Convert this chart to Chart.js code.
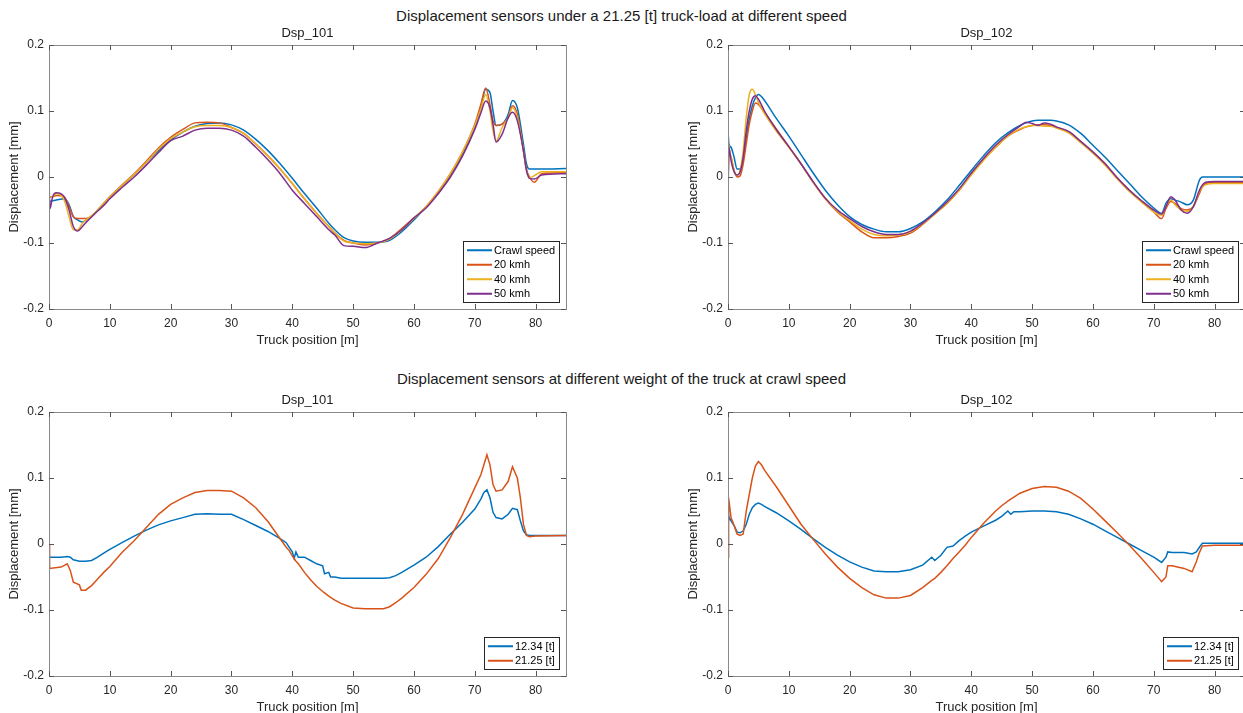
<!DOCTYPE html>
<html>
<head>
<meta charset="utf-8">
<title>Displacement sensors</title>
<script src="https://cdn.jsdelivr.net/npm/chart.js@4.4.1/dist/chart.umd.min.js"></script>
<style>
  html, body { margin: 0; padding: 0; background: #fff; overflow: hidden; }
  body { position: relative; width: 1243px; height: 713px;
         font-family: Arial, "Liberation Sans", Helvetica, sans-serif; }
  .sup { position: absolute; left: 0; width: 1243px; text-align: center;
         font-size: 15px; color: #1a1a1a; line-height: 18px; }
  canvas { position: absolute; }
</style>
</head>
<body>
<div class="sup" style="top:7px">Displacement sensors under a 21.25 [t] truck-load at different speed</div>
<div class="sup" style="top:370px">Displacement sensors at different weight of the truck at crawl speed</div>
<canvas id="c-tl" width="576" height="327" style="left:0;top:22px"></canvas>
<canvas id="c-tr" width="576" height="327" style="left:679px;top:22px"></canvas>
<canvas id="c-bl" width="576" height="327" style="left:0;top:389px"></canvas>
<canvas id="c-br" width="576" height="327" style="left:679px;top:389px"></canvas>
<script>
// ---- axis ticks ----
const X_TICKS       = [0, 10, 20, 30, 40, 50, 60, 70, 80];
const Y_TICKS       = [-0.2, -0.1, 0, 0.1, 0.2];
const Y_TICK_LABELS = ['-0.2', '-0.1', '0', '0.1', '0.2'];

// ---- top row: Dsp_101 at different speeds (21.25 t) ----
const SPEED_LABELS = ['Crawl speed', '20 kmh', '40 kmh', '50 kmh'];

const TL_X = [
  0, 0.15, 0.6, 1.2, 2.5,   3.3, 4, 4.7, 5.5, 6.5,   7.5, 9, 10, 12, 14,
  16, 18, 20, 22, 24,       26, 28, 30, 32, 34,      36, 38, 40, 42, 44,
  46, 47, 48.5, 50, 52,     54, 56, 58, 60, 62,      64, 66, 68, 70, 71,
  71.8, 72.5, 73, 73.5, 74.5,  75.5, 76.2, 77, 78, 78.5,  79, 79.8, 81, 85
];
const TL_CRAWL = [
  -0.037, -0.037, -0.036, -0.035, -0.033,   -0.042, -0.06, -0.065, -0.068, -0.063,   -0.055, -0.04, -0.03, -0.013, 0.004,
  0.022, 0.04, 0.056, 0.068, 0.077,         0.081, 0.082, 0.079, 0.071, 0.057,      0.04, 0.02, -0.002, -0.025, -0.047,
  -0.07, -0.08, -0.092, -0.097, -0.099,     -0.099, -0.096, -0.083, -0.065, -0.045, -0.025, 0.003, 0.035, 0.075, 0.105,
  0.133, 0.128, 0.1, 0.078, 0.08,           0.095, 0.116, 0.105, 0.05, 0.02,        0.012, 0.012, 0.012, 0.013
];
const TL_20 = [
  -0.03, -0.03, -0.03, -0.028, -0.03,       -0.045, -0.06, -0.063, -0.063, -0.062,   -0.055, -0.04, -0.03, -0.012, 0.005,
  0.024, 0.044, 0.06, 0.072, 0.082,         0.083, 0.082, 0.075, 0.066, 0.05,       0.032, 0.012, -0.01, -0.033, -0.055,
  -0.075, -0.085, -0.096, -0.1, -0.103,     -0.1, -0.093, -0.078, -0.062, -0.045,   -0.022, 0.005, 0.038, 0.08, 0.11,
  0.135, 0.11, 0.085, 0.078, 0.08,          0.09, 0.108, 0.095, 0.04, 0.012,        0.0, -0.008, 0.005, 0.007
];
const TL_40 = [
  -0.03, -0.03, -0.03, -0.025, -0.035,      -0.06, -0.08, -0.08, -0.07, -0.062,     -0.055, -0.04, -0.03, -0.013, 0.004,
  0.022, 0.042, 0.058, 0.068, 0.076,        0.078, 0.078, 0.075, 0.066, 0.05,       0.032, 0.012, -0.01, -0.033, -0.055,
  -0.075, -0.085, -0.097, -0.1, -0.101,     -0.1, -0.094, -0.08, -0.063, -0.045,    -0.022, 0.005, 0.038, 0.078, 0.103,
  0.125, 0.1, 0.07, 0.055, 0.075,           0.09, 0.105, 0.09, 0.04, 0.01,          -0.001, 0.002, 0.008, 0.008
];
const TL_50 = [
  0.0, -0.048, -0.03, -0.024, -0.03,        -0.05, -0.075, -0.082, -0.075, -0.065,  -0.056, -0.043, -0.033, -0.016, 0.0,
  0.018, 0.037, 0.055, 0.062, 0.071,        0.074, 0.074, 0.071, 0.062, 0.045,      0.026, 0.005, -0.02, -0.04, -0.06,
  -0.08, -0.088, -0.104, -0.105, -0.107,    -0.1, -0.093, -0.08, -0.062, -0.047,    -0.025, 0.0, 0.032, 0.072, 0.097,
  0.115, 0.105, 0.08, 0.053, 0.065,         0.09, 0.098, 0.085, 0.04, 0.01,         -0.002, -0.003, 0.003, 0.005
];

// ---- top row: Dsp_102 at different speeds (21.25 t) ----
const TR_X = [
  0, 0.15, 0.5, 1, 1.5,    2, 2.5, 3, 3.5, 4,      4.5, 5, 6, 7, 8,
  10, 12, 14, 16, 18,      20, 22, 24, 26, 28,     30, 32, 34, 36, 38,
  40, 42, 44, 46, 48,      49, 50, 51, 52, 53,     54, 56, 58, 60, 62,
  64, 66, 68, 70, 71.3,    72, 72.8, 73.5, 74.5, 75.5,  76.5, 77.5, 78, 78.5, 80,
  85
];
const TR_CRAWL = [
  0.07, 0.05, 0.045, 0.03, 0.012,           0.012, 0.03, 0.06, 0.088, 0.108,        0.12, 0.125, 0.116, 0.102, 0.088,
  0.062, 0.034, 0.006, -0.02, -0.042,       -0.06, -0.072, -0.079, -0.083, -0.083,  -0.078, -0.068, -0.053, -0.035, -0.013,
  0.01, 0.032, 0.052, 0.067, 0.078,         0.082, 0.085, 0.086, 0.086, 0.086,      0.085, 0.079, 0.066, 0.048, 0.03,
  0.01, -0.01, -0.03, -0.047, -0.055,       -0.04, -0.033, -0.035, -0.038, -0.042,  -0.035, -0.005, 0.0, 0.0, 0.0,
  0.0
];
const TR_20 = [
  -0.028, 0.035, 0.03, 0.01, 0.0,           0.002, 0.02, 0.05, 0.08, 0.1,           0.112, 0.11, 0.098, 0.085, 0.072,
  0.046, 0.02, -0.008, -0.033, -0.053,      -0.068, -0.083, -0.092, -0.092, -0.09,  -0.085, -0.072, -0.056, -0.04, -0.02,
  0.004, 0.026, 0.045, 0.062, 0.072,        0.076, 0.078, 0.079, 0.079, 0.078,      0.075, 0.068, 0.053, 0.037, 0.02,
  -0.002, -0.02, -0.037, -0.053, -0.063,    -0.048, -0.037, -0.04, -0.048, -0.05,   -0.045, -0.025, -0.015, -0.01, -0.008,
  -0.008
];
const TR_40 = [
  0.058, 0.045, 0.03, 0.01, 0.003,          0.01, 0.04, 0.09, 0.125, 0.133,         0.125, 0.113, 0.096, 0.082, 0.069,
  0.045, 0.02, -0.008, -0.032, -0.052,      -0.066, -0.079, -0.087, -0.089, -0.088, -0.083, -0.071, -0.056, -0.04, -0.02,
  0.003, 0.025, 0.045, 0.062, 0.073,        0.076, 0.078, 0.078, 0.077, 0.077,      0.074, 0.067, 0.052, 0.036, 0.018,
  -0.003, -0.022, -0.038, -0.053, -0.058,   -0.045, -0.035, -0.042, -0.05, -0.052,  -0.045, -0.022, -0.015, -0.012, -0.01,
  -0.01
];
const TR_50 = [
  -0.025, 0.045, 0.025, 0.008, 0.003,       0.008, 0.03, 0.07, 0.1, 0.118,          0.123, 0.118, 0.1, 0.085, 0.071,
  0.046, 0.02, -0.007, -0.032, -0.05,       -0.063, -0.075, -0.083, -0.087, -0.087, -0.082, -0.07, -0.055, -0.038, -0.018,
  0.006, 0.028, 0.048, 0.064, 0.077,        0.083, 0.081, 0.078, 0.082, 0.08,       0.076, 0.069, 0.054, 0.038, 0.02,
  -0.001, -0.02, -0.036, -0.05, -0.056,     -0.045, -0.03, -0.035, -0.05, -0.055,   -0.045, -0.02, -0.012, -0.008, -0.007,
  -0.007
];

// ---- bottom row: truck weight at crawl speed ----
const WEIGHT_LABELS = ['12.34 [t]', '21.25 [t]'];

const BL_X = [
  0, 0.1, 2, 3, 3.5,       4, 5, 5.3, 6, 7,        8, 9, 10, 12, 14,
  16, 18, 20, 22, 24,      26, 28, 30, 32, 34,     36, 38, 39, 39.5, 40,
  40.3, 40.6, 41, 42, 43,  44, 45, 45.3, 46, 46.3, 47, 48, 50, 52, 55,
  56, 57, 58, 60, 62,      64, 66, 68, 70, 71,     71.5, 72, 72.5, 73, 73.5,
  74.5, 75.5, 76.2, 77, 77.5,  78, 78.5, 79, 80, 85
];
const BL_12 = [
  -0.02, -0.02, -0.02, -0.019, -0.02,       -0.024, -0.026, -0.026, -0.026, -0.025, -0.02, -0.014, -0.008, 0.002, 0.012,
  0.021, 0.029, 0.035, 0.04, 0.045,         0.046, 0.045, 0.045, 0.037, 0.028,      0.019, 0.008, 0.002, -0.005, -0.012,
  -0.022, -0.012, -0.02, -0.02, -0.025,     -0.03, -0.033, -0.045, -0.043, -0.05,   -0.05, -0.052, -0.052, -0.052, -0.052,
  -0.051, -0.048, -0.043, -0.032, -0.02,    -0.004, 0.015, 0.033, 0.053, 0.068,     0.078, 0.082, 0.07, 0.048, 0.04,
  0.038, 0.045, 0.054, 0.052, 0.035,        0.02, 0.014, 0.013, 0.013, 0.013
];
const BL_21 = [
  0.0, -0.037, -0.035, -0.03, -0.04,        -0.058, -0.062, -0.07, -0.07, -0.063,   -0.053, -0.043, -0.034, -0.013, 0.005,
  0.025, 0.045, 0.06, 0.07, 0.078,          0.081, 0.081, 0.08, 0.07, 0.055,        0.034, 0.008, -0.005, -0.01, -0.018,
  -0.022, -0.026, -0.03, -0.043, -0.054,    -0.064, -0.072, -0.074, -0.079, -0.081, -0.085, -0.09, -0.097, -0.098, -0.098,
  -0.095, -0.089, -0.082, -0.066, -0.046,   -0.022, 0.01, 0.045, 0.085, 0.105,      0.12, 0.135, 0.12, 0.09, 0.08,
  0.082, 0.095, 0.117, 0.1, 0.07,           0.03, 0.013, 0.011, 0.012, 0.013
];

const BR_X = [
  0, 0.1, 0.5, 1, 1.5,     2, 2.5, 3, 3.5, 4,      4.5, 5, 5.5, 6, 8,
  10, 12, 14, 16, 18,      20, 22, 24, 26, 28,     30, 32, 33.5, 34, 35,
  36, 37, 38, 39, 40,      42, 44, 45, 46, 46.5,   47, 48, 50, 52, 54,
  56, 58, 60, 62, 64,      66, 68, 70, 71.3, 72,   72.3, 73, 75, 76.3, 77,
  77.5, 78, 80, 85
];
const BR_12 = [
  0.045, 0.042, 0.035, 0.028, 0.018,        0.017, 0.02, 0.03, 0.045, 0.055,        0.06, 0.062, 0.06, 0.057, 0.047,
  0.035, 0.022, 0.008, -0.005, -0.017,      -0.027, -0.035, -0.041, -0.042, -0.042, -0.039, -0.032, -0.02, -0.025, -0.017,
  -0.005, -0.003, 0.005, 0.012, 0.018,      0.027, 0.036, 0.042, 0.05, 0.045,       0.049, 0.049, 0.05, 0.05, 0.049,
  0.045, 0.038, 0.03, 0.02, 0.01,           0.0, -0.01, -0.02, -0.028, -0.02,       -0.012, -0.013, -0.013, -0.015, -0.012,
  -0.005, 0.001, 0.001, 0.001
];
const BR_21 = [
  -0.02, 0.07, 0.04, 0.028, 0.015,          0.013, 0.015, 0.05, 0.075, 0.1,         0.118, 0.125, 0.12, 0.112, 0.086,
  0.058, 0.03, 0.007, -0.015, -0.035,       -0.052, -0.066, -0.077, -0.082, -0.082, -0.078, -0.066, -0.055, -0.052, -0.043,
  -0.033, -0.022, -0.012, -0.002, 0.01,     0.031, 0.05, 0.058, 0.065, 0.068,       0.071, 0.077, 0.084, 0.087, 0.086,
  0.08, 0.069, 0.053, 0.035, 0.017,         -0.002, -0.022, -0.043, -0.057, -0.05,  -0.033, -0.033, -0.037, -0.042, -0.027,
  -0.013, -0.003, -0.002, -0.002
];

const COLORS = ['#0072BD', '#D95319', '#EDB120', '#7E2F8E'];
const FONT   = 'Arial, "Liberation Sans", Helvetica, sans-serif';

(function () {
  Chart.defaults.font.family = FONT;
  Chart.defaults.font.size   = 12;
  Chart.defaults.color       = '#262626';

  // MATLAB-style box with inward tick marks on all four sides
  const axesBox = {
    id: 'axesBox',
    afterDraw(chart) {
      const { ctx, chartArea: a, scales } = chart;
      ctx.save();
      ctx.strokeStyle = '#8a8a8a';
      ctx.lineWidth   = 1;
      ctx.strokeRect(Math.round(a.left) + 0.5, Math.round(a.top) + 0.5,
                     Math.round(a.right - a.left), Math.round(a.bottom - a.top));
      ctx.strokeStyle = '#555';
      ctx.beginPath();
      scales.x.ticks.forEach(t => {
        const px = Math.round(scales.x.getPixelForValue(t.value)) + 0.5;
        ctx.moveTo(px, a.top);    ctx.lineTo(px, a.top + 5);
        ctx.moveTo(px, a.bottom); ctx.lineTo(px, a.bottom - 5);
      });
      scales.y.ticks.forEach(t => {
        const py = Math.round(scales.y.getPixelForValue(t.value)) + 0.5;
        ctx.moveTo(a.left, py);  ctx.lineTo(a.left + 5, py);
        ctx.moveTo(a.right, py); ctx.lineTo(a.right - 5, py);
      });
      ctx.stroke();
      ctx.restore();
    }
  };

  // legend box in the lower right corner of the plot area
  const boxLegend = {
    id: 'boxLegend',
    afterDraw(chart) {
      const { ctx, chartArea: a } = chart;
      const sets = chart.data.datasets;
      ctx.save();
      ctx.font = '11px ' + FONT;
      const textW = Math.max(...sets.map(d => ctx.measureText(d.label).width));
      const rowH  = 14.5;
      const lineL = 25;
      const w = Math.round(4 + lineL + 2 + textW + 4);
      const h = Math.round(rowH * sets.length + 3);
      const x = Math.round(a.right - 7 - w);
      const y = Math.round(a.bottom - 7 - h);
      ctx.fillStyle = '#fff';
      ctx.fillRect(x, y, w, h);
      ctx.strokeStyle = '#262626';
      ctx.lineWidth   = 1;
      ctx.strokeRect(x + 0.5, y + 0.5, w, h);
      sets.forEach((d, i) => {
        const cy = y + 2 + rowH * (i + 0.5);
        ctx.strokeStyle = d.borderColor;
        ctx.lineWidth   = 2;
        ctx.beginPath();
        ctx.moveTo(x + 4, cy);
        ctx.lineTo(x + 4 + lineL, cy);
        ctx.stroke();
        ctx.fillStyle    = '#000';
        ctx.textBaseline = 'middle';
        ctx.fillText(d.label, x + 4 + lineL + 2, cy + 0.5);
      });
      ctx.restore();
    }
  };

  function makeChart(id, title, xs, series, labels, smooth) {
    const n = series.length;
    const datasets = series.map((ys, i) => ({
      label:       labels[i],
      data:        xs.map((x, k) => ({ x, y: ys[k] })),
      borderColor: COLORS[i],
      borderWidth: 1.5,
      pointRadius: 0,
      cubicInterpolationMode: smooth ? 'monotone' : 'default',
      order:       n - 1 - i,
    }));

    return new Chart(document.getElementById(id), {
      type: 'line',
      data: { datasets },
      plugins: [axesBox, boxLegend],
      options: {
        responsive: false,
        animation:  false,
        layout:     { padding: { right: 10 } },
        plugins: {
          legend:  { display: false },
          tooltip: { enabled: false },
          title: {
            display:  true,
            text:     title,
            fullSize: false,
            color:    '#1a1a1a',
            font:     { size: 13, weight: 'normal' },
            padding:  { top: 4, bottom: 3.4 },
          },
        },
        scales: {
          x: {
            type: 'linear',
            min:  0,
            max:  85,
            afterBuildTicks: s => { s.ticks = X_TICKS.map(v => ({ value: v })); },
            afterFit:        s => { s.height = 40; },
            grid:   { display: false, drawTicks: false },
            border: { display: false },
            ticks:  { padding: 7, maxRotation: 0, autoSkip: false, callback: v => String(v) },
            title:  { display: true, text: 'Truck position [m]', font: { size: 13 },
                      padding: { top: 0, bottom: 1 } },
          },
          y: {
            type: 'linear',
            min:  -0.2,
            max:  0.2,
            afterBuildTicks: s => { s.ticks = Y_TICKS.map(v => ({ value: v })); },
            afterFit:        s => { s.width = 49; },
            grid:   { display: false, drawTicks: false },
            border: { display: false },
            ticks:  { padding: 5, callback: (v, i) => Y_TICK_LABELS[i] },
            title:  { display: true, text: 'Displacement [mm]', font: { size: 13 },
                      padding: { top: 7, bottom: 0 } },
          },
        },
      },
    });
  }

  makeChart('c-tl', 'Dsp_101', TL_X, [TL_CRAWL, TL_20, TL_40, TL_50], SPEED_LABELS, true);
  makeChart('c-tr', 'Dsp_102', TR_X, [TR_CRAWL, TR_20, TR_40, TR_50], SPEED_LABELS, true);
  makeChart('c-bl', 'Dsp_101', BL_X, [BL_12, BL_21], WEIGHT_LABELS, false);
  makeChart('c-br', 'Dsp_102', BR_X, [BR_12, BR_21], WEIGHT_LABELS, false);
})();
</script>
</body>
</html>
